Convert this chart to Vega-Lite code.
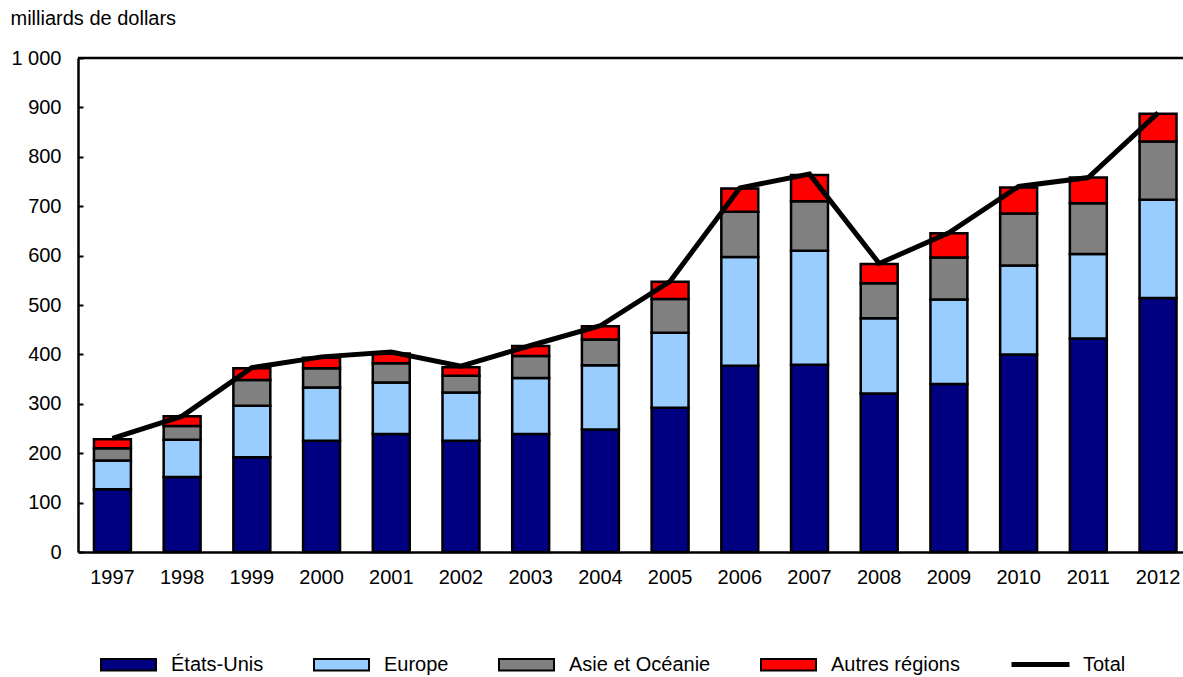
{
  "$schema": "https://vega.github.io/schema/vega-lite/v6.json",
  "autosize": {"type": "none"},
  "width": 1105,
  "height": 494,
  "padding": {"left": 78, "top": 58, "right": 0, "bottom": 125},
  "background": "white",
  "config": {
    "view": {"stroke": null},
    "font": "Liberation Sans",
    "axis": {"labelFont": "Liberation Sans", "labelFontSize": 20, "labelColor": "black", "domainColor": "black", "tickColor": "black", "titleFont": "Liberation Sans"},
    "legend": {"labelFont": "Liberation Sans", "labelFontSize": 20, "labelColor": "black", "padding": 0}
  },
  "datasets": {
    "regions": [
      {"annee": "1997", "region": "États-Unis", "k": 1, "valeur": 127},
      {"annee": "1997", "region": "Europe", "k": 2, "valeur": 58},
      {"annee": "1997", "region": "Asie et Océanie", "k": 3, "valeur": 25},
      {"annee": "1997", "region": "Autres régions", "k": 4, "valeur": 18},
      {"annee": "1998", "region": "États-Unis", "k": 1, "valeur": 152},
      {"annee": "1998", "region": "Europe", "k": 2, "valeur": 75},
      {"annee": "1998", "region": "Asie et Océanie", "k": 3, "valeur": 28},
      {"annee": "1998", "region": "Autres régions", "k": 4, "valeur": 20},
      {"annee": "1999", "region": "États-Unis", "k": 1, "valeur": 192},
      {"annee": "1999", "region": "Europe", "k": 2, "valeur": 104},
      {"annee": "1999", "region": "Asie et Océanie", "k": 3, "valeur": 52},
      {"annee": "1999", "region": "Autres régions", "k": 4, "valeur": 24},
      {"annee": "2000", "region": "États-Unis", "k": 1, "valeur": 225},
      {"annee": "2000", "region": "Europe", "k": 2, "valeur": 108},
      {"annee": "2000", "region": "Asie et Océanie", "k": 3, "valeur": 39},
      {"annee": "2000", "region": "Autres régions", "k": 4, "valeur": 21},
      {"annee": "2001", "region": "États-Unis", "k": 1, "valeur": 239},
      {"annee": "2001", "region": "Europe", "k": 2, "valeur": 104},
      {"annee": "2001", "region": "Asie et Océanie", "k": 3, "valeur": 39},
      {"annee": "2001", "region": "Autres régions", "k": 4, "valeur": 20},
      {"annee": "2002", "region": "États-Unis", "k": 1, "valeur": 225},
      {"annee": "2002", "region": "Europe", "k": 2, "valeur": 98},
      {"annee": "2002", "region": "Asie et Océanie", "k": 3, "valeur": 34},
      {"annee": "2002", "region": "Autres régions", "k": 4, "valeur": 17},
      {"annee": "2003", "region": "États-Unis", "k": 1, "valeur": 239},
      {"annee": "2003", "region": "Europe", "k": 2, "valeur": 113},
      {"annee": "2003", "region": "Asie et Océanie", "k": 3, "valeur": 45},
      {"annee": "2003", "region": "Autres régions", "k": 4, "valeur": 20},
      {"annee": "2004", "region": "États-Unis", "k": 1, "valeur": 248},
      {"annee": "2004", "region": "Europe", "k": 2, "valeur": 130},
      {"annee": "2004", "region": "Asie et Océanie", "k": 3, "valeur": 52},
      {"annee": "2004", "region": "Autres régions", "k": 4, "valeur": 27},
      {"annee": "2005", "region": "États-Unis", "k": 1, "valeur": 292},
      {"annee": "2005", "region": "Europe", "k": 2, "valeur": 152},
      {"annee": "2005", "region": "Asie et Océanie", "k": 3, "valeur": 68},
      {"annee": "2005", "region": "Autres régions", "k": 4, "valeur": 35},
      {"annee": "2006", "region": "États-Unis", "k": 1, "valeur": 377},
      {"annee": "2006", "region": "Europe", "k": 2, "valeur": 220},
      {"annee": "2006", "region": "Asie et Océanie", "k": 3, "valeur": 92},
      {"annee": "2006", "region": "Autres régions", "k": 4, "valeur": 47},
      {"annee": "2007", "region": "États-Unis", "k": 1, "valeur": 379},
      {"annee": "2007", "region": "Europe", "k": 2, "valeur": 231},
      {"annee": "2007", "region": "Asie et Océanie", "k": 3, "valeur": 100},
      {"annee": "2007", "region": "Autres régions", "k": 4, "valeur": 53},
      {"annee": "2008", "region": "États-Unis", "k": 1, "valeur": 321},
      {"annee": "2008", "region": "Europe", "k": 2, "valeur": 152},
      {"annee": "2008", "region": "Asie et Océanie", "k": 3, "valeur": 71},
      {"annee": "2008", "region": "Autres régions", "k": 4, "valeur": 39},
      {"annee": "2009", "region": "États-Unis", "k": 1, "valeur": 340},
      {"annee": "2009", "region": "Europe", "k": 2, "valeur": 171},
      {"annee": "2009", "region": "Asie et Océanie", "k": 3, "valeur": 85},
      {"annee": "2009", "region": "Autres régions", "k": 4, "valeur": 49},
      {"annee": "2010", "region": "États-Unis", "k": 1, "valeur": 400},
      {"annee": "2010", "region": "Europe", "k": 2, "valeur": 180},
      {"annee": "2010", "region": "Asie et Océanie", "k": 3, "valeur": 105},
      {"annee": "2010", "region": "Autres régions", "k": 4, "valeur": 53},
      {"annee": "2011", "region": "États-Unis", "k": 1, "valeur": 432},
      {"annee": "2011", "region": "Europe", "k": 2, "valeur": 171},
      {"annee": "2011", "region": "Asie et Océanie", "k": 3, "valeur": 103},
      {"annee": "2011", "region": "Autres régions", "k": 4, "valeur": 52},
      {"annee": "2012", "region": "États-Unis", "k": 1, "valeur": 514},
      {"annee": "2012", "region": "Europe", "k": 2, "valeur": 199},
      {"annee": "2012", "region": "Asie et Océanie", "k": 3, "valeur": 118},
      {"annee": "2012", "region": "Autres régions", "k": 4, "valeur": 56}
    ],
    "totaux": [
      {"annee": "1997", "total": 230},
      {"annee": "1998", "total": 275},
      {"annee": "1999", "total": 373},
      {"annee": "2000", "total": 395},
      {"annee": "2001", "total": 405},
      {"annee": "2002", "total": 376},
      {"annee": "2003", "total": 418},
      {"annee": "2004", "total": 458},
      {"annee": "2005", "total": 548},
      {"annee": "2006", "total": 737},
      {"annee": "2007", "total": 765},
      {"annee": "2008", "total": 584},
      {"annee": "2009", "total": 646},
      {"annee": "2010", "total": 740},
      {"annee": "2011", "total": 758},
      {"annee": "2012", "total": 889}
    ]
  },
  "layer": [
    {
      "data": {"name": "regions"},
      "mark": {"type": "bar", "stroke": "black", "strokeWidth": 2.5},
      "encoding": {
        "x": {
          "field": "annee", "type": "ordinal",
          "scale": {"paddingInner": 0.47, "paddingOuter": 0.161, "align": 0.711},
          "axis": {"title": null, "labelAngle": 0, "ticks": false, "domainWidth": 2.5, "labelPadding": 15}
        },
        "y": {
          "field": "valeur", "type": "quantitative", "stack": "zero",
          "scale": {"domain": [0, 1000], "nice": false},
          "axis": {
            "title": "milliards de dollars", "titleAngle": 0, "titleAlign": "left", "titleBaseline": "alphabetic",
            "titleX": -68, "titleY": -34, "titleFontSize": 20, "titleFontWeight": "normal", "titleColor": "black",
            "values": [0, 100, 200, 300, 400, 500, 600, 700, 800, 900, 1000],
            "labelExpr": "datum.value == 1000 ? '1 000' : datum.label",
            "tickSize": -5, "tickWidth": 2, "domainWidth": 2.5, "labelPadding": 22, "grid": false
          }
        },
        "color": {
          "field": "region", "type": "nominal",
          "sort": ["États-Unis", "Europe", "Asie et Océanie", "Autres régions"],
          "scale": {"domain": ["États-Unis", "Europe", "Asie et Océanie", "Autres régions"], "range": ["#000080", "#99CCFF", "#808080", "#FF0000"]},
          "legend": {
            "orient": "none", "legendX": 22, "legendY": 578, "direction": "horizontal", "title": null,
            "symbolType": "M-1,-0.21H1V0.21H-1Z", "symbolSize": 3025, "symbolStrokeColor": "black", "symbolStrokeWidth": 2,
            "symbolOpacity": 1, "labelOffset": 14, "columnPadding": 46
          }
        },
        "order": {"field": "k", "type": "quantitative"}
      }
    },
    {
      "data": {"name": "totaux"},
      "mark": {"type": "line", "strokeWidth": 5},
      "encoding": {
        "x": {"field": "annee", "type": "ordinal"},
        "y": {"field": "total", "type": "quantitative"},
        "stroke": {
          "datum": "Total",
          "scale": {"range": ["black"]},
          "legend": {"orient": "none", "legendX": 931, "legendY": 575, "title": null, "symbolType": "stroke", "symbolSize": 3364, "symbolStrokeWidth": 5, "labelOffset": 11}
        }
      }
    },
    {
      "data": {"values": [{}]},
      "mark": {"type": "rule", "strokeWidth": 2.5, "color": "black"},
      "encoding": {"y": {"datum": 1000}}
    }
  ]
}
